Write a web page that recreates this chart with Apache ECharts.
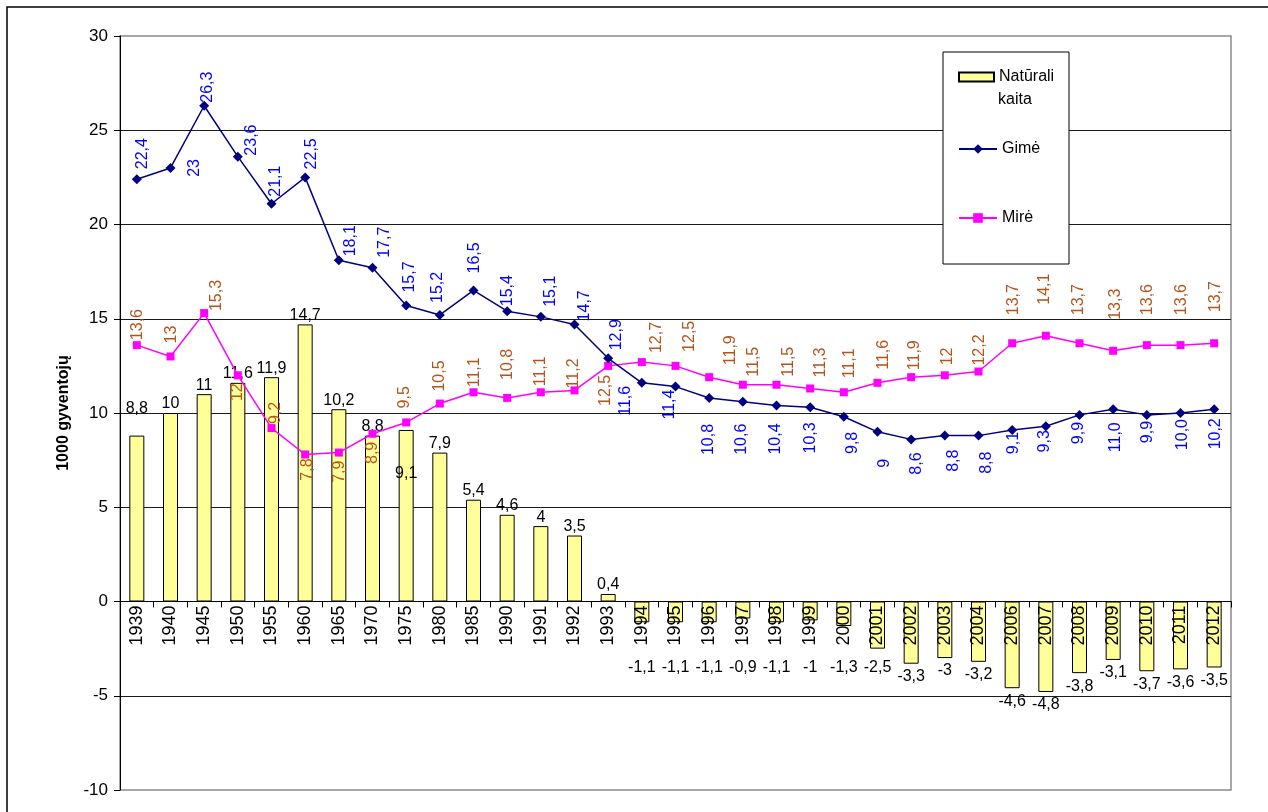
<!DOCTYPE html>
<html>
<head>
<meta charset="utf-8">
<script src="https://cdn.jsdelivr.net/npm/echarts@6/dist/echarts.min.js"></script>
<style>
html,body{margin:0;padding:0;background:#fff;}
#c{width:1268px;height:812px;}
</style>
</head>
<body>
<div id="c"></div>
<script>
// ---- data ----
const categories = ['1939','1940','1945','1950','1955','1960','1965','1970','1975','1980','1985','1990','1991','1992','1993','1994','1995','1996','1997','1998','1999','2000','2001','2002','2003','2004','2006','2007','2008','2009','2010','2011','2012'];
const naturalChange = [8.8,10,11,11.6,11.9,14.7,10.2,8.8,9.1,7.9,5.4,4.6,4,3.5,0.4,-1.1,-1.1,-1.1,-0.9,-1.1,-1,-1.3,-2.5,-3.3,-3,-3.2,-4.6,-4.8,-3.8,-3.1,-3.7,-3.6,-3.5];
const births = [22.4,23,26.3,23.6,21.1,22.5,18.1,17.7,15.7,15.2,16.5,15.4,15.1,14.7,12.9,11.6,11.4,10.8,10.6,10.4,10.3,9.8,9,8.6,8.8,8.8,9.1,9.3,9.9,10.2,9.9,10.0,10.2];
const birthLabels = ['22,4','23','26,3','23,6','21,1','22,5','18,1','17,7','15,7','15,2','16,5','15,4','15,1','14,7','12,9','11,6','11,4','10,8','10,6','10,4','10,3','9,8','9','8,6','8,8','8,8','9,1','9,3','9,9','11,0','9,9','10,0','10,2'];
const deaths = [13.6,13,15.3,12,9.2,7.8,7.9,8.9,9.5,10.5,11.1,10.8,11.1,11.2,12.5,12.7,12.5,11.9,11.5,11.5,11.3,11.1,11.6,11.9,12,12.2,13.7,14.1,13.7,13.3,13.6,13.6,13.7];
const yTicks = {min:-10, max:30, interval:5};

// ---- label placement (style only): [dx, gap]; gap<0 above point, gap>0 below, 0 centred ----
const birthLabelShift = [[6,-10],[24,0],[3,-3],[14,-1],[4,-7],[6,-8],[12,-4],[12,-10],[3,-13],[-2,-12],[1,-17],[0,-5],[10,-10],[10,-3],[8,-8],[-16,3],[-6,3],[-1,26],[-1,22],[-1,18],[0,15],[9,15],[7,27],[5,13],[9,14],[8,16],[1,2],[-1,4],[-1,7],[2,13],[1,6],[2,6],[1,9]];
const deathLabelShift = [[1,-5],[1,-13],[12,-2],[0,8],[4,-4],[2,4],[1,8],[0,8],[-2,-14],[0,-12],[1,-5],[0,-18],[0,-6],[-1,-2],[-3,9],[15,-9],[14,-14],[21,-12],[11,-8],[12,-8],[10,-11],[6,-14],[6,-13],[3,-7],[3,-10],[1,-6],[1,-28],[-1,-31],[-1,-28],[2,-31],[1,-30],[1,-30],[1,-31]];
const barLabelShift = {0:-18, 8:53};

const FONT = '"Liberation Sans", Arial, sans-serif';
const fmt = v => String(v).replace('.', ',');

const GRID = {left: 120, right: 37, top: 36, bottom: 22};
const plotH = 812 - GRID.top - GRID.bottom;
// category axis sits on the zero line: shift it up from the bottom edge
const zeroOffset = -plotH * (0 - yTicks.min) / (yTicks.max - yTicks.min);

function lineLayout(shift){
  return function(p){
    const n = shift[p.dataIndex];
    const cx = p.rect.x + p.rect.width/2, cy = p.rect.y + p.rect.height/2;
    const g = n[1];
    return {x: cx + n[0], y: cy + g, align: g < 0 ? 'left' : (g > 0 ? 'right' : 'center'), verticalAlign: 'middle'};
  };
}

const chart = echarts.init(document.getElementById('c'), null, {renderer:'canvas'});
chart.setOption({
  animation: false,
  textStyle: {fontFamily: FONT},
  grid: {left: GRID.left, right: GRID.right, top: GRID.top, bottom: GRID.bottom, containLabel: false, outerBoundsMode: 'none',
         show: true, borderColor: '#8a8a8a', borderWidth: 1.5, backgroundColor: 'transparent'},
  graphic: [
    {type:'rect', z: -10, shape:{x:7, y:7, width:1400, height:1000}, style:{fill:'none', stroke:'#000', lineWidth:1.5}},
    {type:'rect', z: 50, shape:{x:943, y:52, width:126, height:212}, style:{fill:'#fff', stroke:'#000', lineWidth:1}},
    {type:'text', z: 60, x: 998, y: 100, style:{text:'kaita', fontSize:16, fontFamily:FONT, fill:'#000', verticalAlign:'middle', align:'left'}}
  ],
  legend: [
    {data:['Natūrali kaita'], left:958, top:69, padding:0, selectedMode:false, z:60, icon:'rect', itemWidth:35, itemHeight:9,
     formatter: n => n.split(' ')[0], textStyle:{fontSize:16, color:'#000', fontFamily:FONT}},
    {data:['Gimė'], left:958, top:141, padding:0, selectedMode:false, z:60, itemWidth:38, itemHeight:12,
     textStyle:{fontSize:16, color:'#000', fontFamily:FONT}},
    {data:['Mirė'], left:958, top:210, padding:0, selectedMode:false, z:60, itemWidth:38, itemHeight:12,
     textStyle:{fontSize:16, color:'#000', fontFamily:FONT}}
  ],
  xAxis: {
    type: 'category', data: categories, boundaryGap: true, position: 'bottom', offset: zeroOffset, z: 8,
    axisLine: {onZero: false, lineStyle: {color:'#000', width:1}},
    axisTick: {show: true, length: 6, lineStyle: {color:'#000'}},
    axisLabel: {rotate: 90, interval: 0, fontSize: 18, color: '#000', margin: 4, fontFamily: FONT},
    splitLine: {show: false}
  },
  yAxis: {
    type: 'value', min: yTicks.min, max: yTicks.max, interval: yTicks.interval,
    name: '1000 gyventojų', nameLocation: 'middle', nameGap: 48,
    nameTextStyle: {fontSize: 16, fontWeight: 'bold', color: '#000', fontFamily: FONT},
    axisLine: {show: true, onZero: false, lineStyle: {color:'#000', width:1}},
    axisTick: {show: true, length: 6, lineStyle: {color:'#000'}},
    axisLabel: {fontSize: 17, color: '#000', margin: 12, fontFamily: FONT},
    splitLine: {show: true, showMinLine: false, showMaxLine: false, lineStyle: {color:'#1a1a1a', width:1.2}}
  },
  series: [
    {
      name: 'Natūrali kaita', type: 'bar', data: naturalChange, barWidth: 15, z: 2,
      itemStyle: {color: '#ffff99', borderColor: '#000', borderWidth: 1},
      label: {show: true, position: 'top', fontSize: 16, color: '#000', fontFamily: FONT, formatter: p => fmt(p.value)},
      labelLayout: function(p){
        const v = naturalChange[p.dataIndex];
        const cx = p.rect.x + p.rect.width/2;
        if (v >= 0) {
          const n = barLabelShift[p.dataIndex] || 0;
          return {x: cx, y: p.rect.y - 9 + n, align: 'center', verticalAlign: 'middle'};
        }
        const zero = p.rect.y, bottom = p.rect.y + p.rect.height;
        return {x: cx, y: Math.max(zero + 58, bottom + 5), align: 'center', verticalAlign: 'top'};
      }
    },
    {
      name: 'Gimė', type: 'line', data: births, z: 4,
      symbol: 'diamond', symbolSize: 10,
      lineStyle: {color: '#000080', width: 1.5}, itemStyle: {color: '#000080'},
      label: {show: true, position: 'inside', rotate: 90, fontSize: 16, color: '#0000ff', fontFamily: FONT,
              formatter: p => birthLabels[p.dataIndex]},
      labelLayout: lineLayout(birthLabelShift)
    },
    {
      name: 'Mirė', type: 'line', data: deaths, z: 3,
      symbol: 'rect', symbolSize: 8,
      lineStyle: {color: '#ff00ff', width: 1.5}, itemStyle: {color: '#ff00ff'},
      label: {show: true, position: 'inside', rotate: 90, fontSize: 16, color: '#b5531c', fontFamily: FONT,
              formatter: p => fmt(p.value)},
      labelLayout: lineLayout(deathLabelShift)
    }
  ]
});
</script>
</body>
</html>
